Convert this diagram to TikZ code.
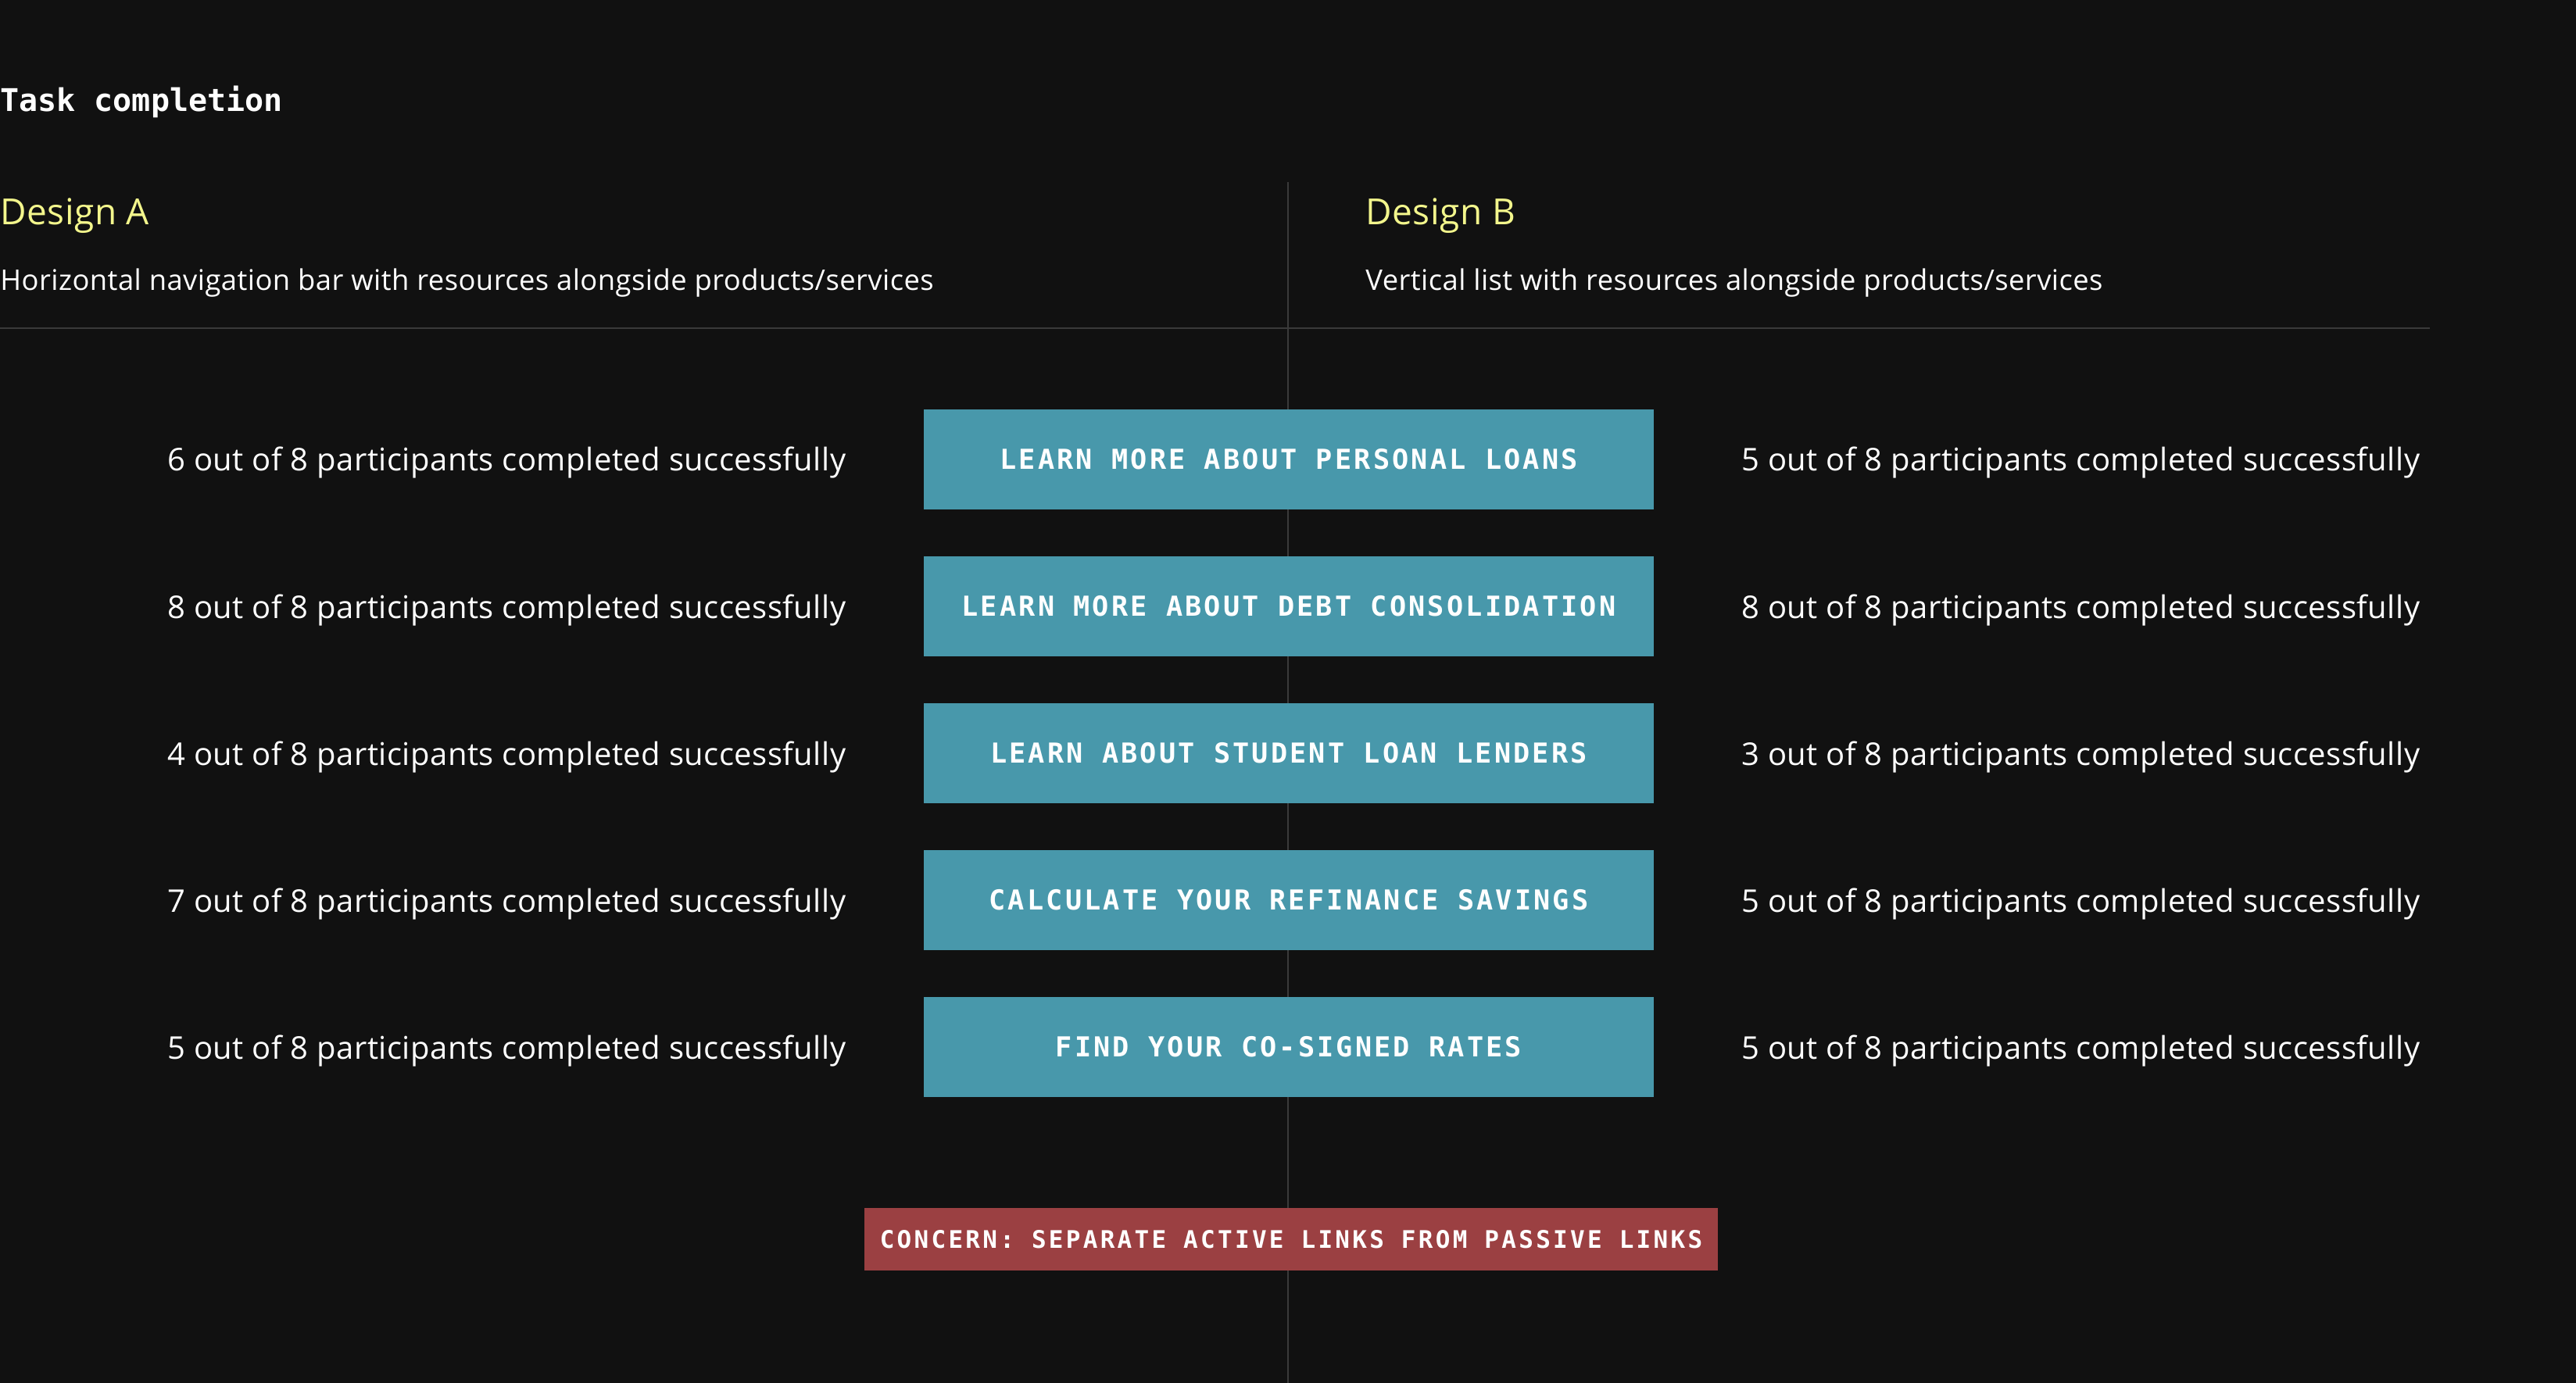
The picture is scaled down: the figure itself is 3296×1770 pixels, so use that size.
\documentclass[tikz,border=0pt]{standalone}
\usepackage{fontspec}
\usepackage{xcolor}
\setmainfont{Open Sans}[LetterSpace=1.2]
\newfontfamily\titlefont{DejaVu Sans Mono Bold}
\newfontfamily\boxfont[LetterSpace=9]{DejaVu Sans Mono Bold}
\newfontfamily\concernfont[LetterSpace=10.6]{DejaVu Sans Mono Bold}
\definecolor{bgdark}{HTML}{111111}
\definecolor{tealbox}{HTML}{4898AB}
\definecolor{redbox}{HTML}{9B4042}
\definecolor{headyellow}{HTML}{F3F68C}
\definecolor{rulegrey}{HTML}{3A3A3A}

\begin{document}
\begin{tikzpicture}[x=0.5pt, y=-0.5pt,
    title/.style={anchor=base west, inner sep=0pt, text=white, font=\titlefont\fontsize{20}{24}\selectfont},
    heading/.style={anchor=base west, inner sep=0pt, text=headyellow, font=\fontsize{23}{27}\selectfont},
    subtitle/.style={anchor=base west, inner sep=0pt, text=white, font=\fontsize{18.2}{22}\selectfont},
    result/.style={anchor=base west, inner sep=0pt, text=white, font=\fontsize{20}{24}\selectfont},
    task/.style={rectangle, fill=tealbox, text=white, inner sep=0pt, minimum width=467pt, minimum height=64pt, font=\boxfont\fontsize{17.6}{20}\selectfont},
    concern/.style={rectangle, fill=redbox, text=white, inner sep=0pt, minimum width=546pt, minimum height=40pt, font=\concernfont\fontsize{15.5}{18}\selectfont},
    divider/.style={draw=rulegrey, line width=1.2pt}
]
    % Background
    \fill[bgdark] (0,0) rectangle (3296,1770);
    \useasboundingbox (0,0) rectangle (3296,1770);

    % Dividers
    \coordinate (hl) at (0,420);
    \coordinate (hr) at (3109,420);
    \coordinate (vt) at (1648,233);
    \coordinate (vb) at (1648,1770);
    \draw[divider] (hl) -- (hr);
    \draw[divider] (vt) -- (vb);

    % Headings
    \node[title] (ttl) at (0,143) {Task completion};
    \node[heading] (desA) at (0,288) {Design A};
    \node[subtitle] (subA) at (0,372) {Horizontal navigation bar with resources alongside products/services};
    \node[heading] (desB) at (1747,288) {Design B};
    \node[subtitle] (subB) at (1747,372) {Vertical list with resources alongside products/services};

    % Tasks (centre)
    \node[task] (task1) at (1649,588) {LEARN MORE ABOUT PERSONAL LOANS};
    \node[task] (task2) at (1649,776) {LEARN MORE ABOUT DEBT CONSOLIDATION};
    \node[task] (task3) at (1649,964) {LEARN ABOUT STUDENT LOAN LENDERS};
    \node[task] (task4) at (1649,1152) {CALCULATE YOUR REFINANCE SAVINGS};
    \node[task] (task5) at (1649,1340) {FIND YOUR CO-SIGNED RATES};

    % Design A results (left)
    \node[result] (resA1) at (214,603) {6 out of 8 participants completed successfully};
    \node[result] (resA2) at (214,791) {8 out of 8 participants completed successfully};
    \node[result] (resA3) at (214,979) {4 out of 8 participants completed successfully};
    \node[result] (resA4) at (214,1167) {7 out of 8 participants completed successfully};
    \node[result] (resA5) at (214,1355) {5 out of 8 participants completed successfully};

    % Design B results (right)
    \node[result] (resB1) at (2228,603) {5 out of 8 participants completed successfully};
    \node[result] (resB2) at (2228,791) {8 out of 8 participants completed successfully};
    \node[result] (resB3) at (2228,979) {3 out of 8 participants completed successfully};
    \node[result] (resB4) at (2228,1167) {5 out of 8 participants completed successfully};
    \node[result] (resB5) at (2228,1355) {5 out of 8 participants completed successfully};

    % Concern
    \node[concern] (cncrn) at (1652,1586) {CONCERN: SEPARATE ACTIVE LINKS FROM PASSIVE LINKS};
\end{tikzpicture}
\end{document}
